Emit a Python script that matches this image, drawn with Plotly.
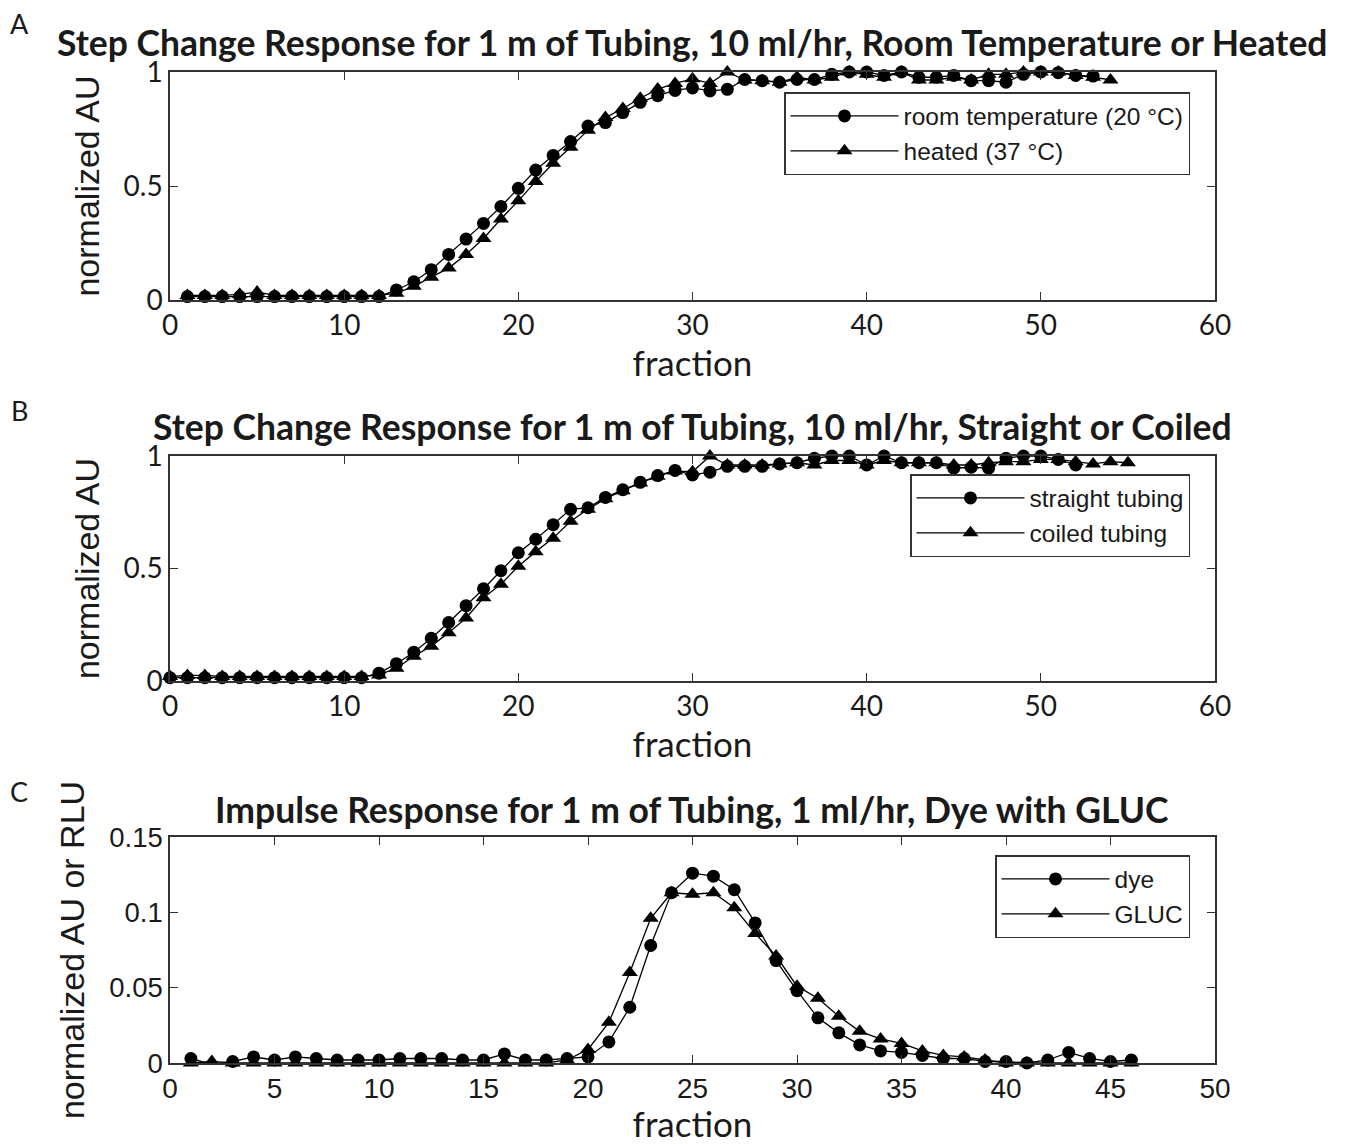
import plotly.graph_objects as go

# ---------------- data ----------------
# Panel A: room temperature vs heated
a_room_x = list(range(1, 54))
a_room_y = [0.015] * 12 + [0.044, 0.08, 0.133, 0.20, 0.267, 0.336, 0.41, 0.49, 0.57, 0.634, 0.695, 0.763,
                            0.778, 0.822, 0.867, 0.896, 0.919,
                            0.93, 0.917, 0.924, 0.967, 0.962, 0.955, 0.967, 0.967, 0.99, 1.0, 1.0, 0.985,
                            1.0, 0.977, 0.977, 0.985, 0.962, 0.962, 0.955, 0.99, 1.0, 0.997, 0.985, 0.982]
a_heat_x = list(range(1, 55))
a_heat_y = [0.02, 0.02, 0.02, 0.025, 0.035, 0.02, 0.02, 0.02, 0.02, 0.02, 0.02, 0.02,
            0.03, 0.06, 0.10, 0.14, 0.20, 0.27, 0.355, 0.435, 0.52, 0.60, 0.67, 0.745, 0.80, 0.84, 0.885,
            0.925, 0.95,
            0.97, 0.95, 1.0, 0.965, 0.962, 0.955, 0.977, 0.965, 0.977, 1.0, 0.99, 0.977, 1.0, 0.965,
            0.965, 0.977, 0.965, 0.99, 0.99, 1.0, 1.0, 1.0, 0.985, 0.977, 0.965]

# Panel B: straight vs coiled
b_straight_x = list(range(0, 53))
b_straight_y = [0.015] * 12 + [0.035, 0.077, 0.128, 0.19, 0.26, 0.335, 0.41, 0.49, 0.57, 0.63, 0.695,
                                0.763, 0.77, 0.816, 0.85, 0.883, 0.913, 0.936,
                                0.916, 0.928, 0.954, 0.954, 0.954, 0.965, 0.97, 0.99, 1.0, 1.0, 0.96, 1.0,
                                0.97, 0.97, 0.97, 0.946, 0.95, 0.946, 0.99, 1.0, 1.0, 0.985, 0.96]
b_coiled_x = list(range(0, 56))
b_coiled_y = [0.02, 0.025, 0.025, 0.02, 0.02, 0.02, 0.02, 0.02, 0.02, 0.02, 0.02, 0.02,
              0.027, 0.057, 0.11, 0.155, 0.215, 0.28, 0.37, 0.43, 0.51, 0.575, 0.635, 0.71, 0.763, 0.81,
              0.846, 0.88, 0.91, 0.933,
              0.93, 1.0, 0.96, 0.96, 0.96, 0.965, 0.97, 0.96, 0.98, 0.98, 0.96, 0.98, 0.97, 0.97, 0.97,
              0.96, 0.96, 0.97, 0.975, 0.975, 0.985, 0.985, 0.975, 0.965, 0.975, 0.97]

# Panel C: dye vs GLUC impulse response
c_x = list(range(1, 47))
c_dye_y = [0.003, -0.001, 0.001, 0.004, 0.002, 0.004, 0.003, 0.002, 0.002, 0.002, 0.003, 0.003, 0.003,
           0.002, 0.002, 0.006, 0.002, 0.002, 0.003, 0.004, 0.014, 0.037, 0.078, 0.113, 0.126, 0.124,
           0.115, 0.093, 0.068, 0.048, 0.030, 0.020, 0.012, 0.008, 0.007, 0.005, 0.003, 0.003, 0.001,
           0.001, 0.0, 0.002, 0.007, 0.003, 0.001, 0.002]
c_gluc_y = [0.0, 0.001, 0.0, 0.0, 0.0, 0.0, 0.0, 0.0, 0.0, 0.0, 0.0, 0.0, 0.0, 0.0, 0.0, 0.0, 0.0, 0.0,
            0.002, 0.009, 0.027, 0.060, 0.096, 0.113, 0.112, 0.113, 0.103, 0.086, 0.071, 0.051, 0.043,
            0.031, 0.021, 0.016, 0.013, 0.008, 0.005, 0.004, 0.002, 0.0, 0.0, 0.0, 0.0, 0.0, 0.0, 0.0]

titles = ["Step Change Response for 1 m of Tubing, 10 ml/hr, Room Temperature or Heated",
          "Step Change Response for 1 m of Tubing, 10 ml/hr, Straight or Coiled",
          "Impulse Response for 1 m of Tubing, 1 ml/hr, Dye with GLUC"]
panel_letters = ["A", "B", "C"]
names_a = ["room temperature (20 °C)", "heated (37 °C)"]
names_b = ["straight tubing", "coiled tubing"]
names_c = ["dye", "GLUC"]

# ---------------- figure ----------------
PAGE_W, PAGE_H = 1351, 1144
OFF = 8  # default body margin of the html page
W, H = PAGE_W - OFF, PAGE_H - OFF
CAL = "Lato, Calibri, Carlito, sans-serif"
ARI = "Liberation Sans, Arial, sans-serif"
INK = "#1a1a1a"

def px_x(p):
    return (p - OFF) / W

def px_y(p):
    return 1 - (p - OFF) / H

fig = go.Figure()

def add_pair(xa, ya, xb, yb, names, xref, yref, legend):
    fig.add_trace(go.Scatter(x=xa, y=ya, mode="lines+markers", name=names[0],
                             line=dict(color="black", width=1.3),
                             marker=dict(symbol="circle", size=13, color="black"),
                             xaxis=xref, yaxis=yref, legend=legend, cliponaxis=False))
    fig.add_trace(go.Scatter(x=xb, y=yb, mode="lines+markers", name=names[1],
                             line=dict(color="black", width=1.3),
                             marker=dict(symbol="triangle-up", size=14, color="black"),
                             xaxis=xref, yaxis=yref, legend=legend, cliponaxis=False))

add_pair(a_room_x, a_room_y, a_heat_x, a_heat_y, names_a, "x", "y", "legend")
add_pair(b_straight_x, b_straight_y, b_coiled_x, b_coiled_y, names_b, "x2", "y2", "legend2")
add_pair(c_x, c_dye_y, c_x, c_gluc_y, names_c, "x3", "y3", "legend3")

axis_common = dict(showline=True, linecolor="#333333", linewidth=1.5, mirror="ticks",
                   ticks="inside", ticklen=8, tickwidth=1.3, tickcolor="#333333",
                   showgrid=False, zeroline=False, automargin=False)

# panel boxes in page pixels (left, right, top, bottom)
boxes = [(170, 1215, 72, 300), (170, 1215, 456, 681), (170, 1215, 837, 1063)]
xdom = [px_x(170), px_x(1215)]

layout = dict(width=W, height=H, margin=dict(l=0, r=0, t=0, b=0, autoexpand=False),
              plot_bgcolor="white", paper_bgcolor="white", showlegend=True)

xranges = [[0, 60], [0, 60], [0, 50]]
xdticks = [10, 10, 5]
yranges = [[0, 1], [0, 1], [0, 0.15]]
ydticks = [0.5, 0.5, 0.05]
ytitles = ["normalized AU", "normalized AU", "normalized AU or RLU"]
ystandoff = [14, 14, 14]
xtickfonts = [dict(family=CAL, size=28, color=INK), dict(family=CAL, size=28, color=INK),
              dict(family=ARI, size=28, color=INK)]
ytickfonts = [dict(family=CAL, size=28, color=INK), dict(family=CAL, size=28, color=INK),
              dict(family=ARI, size=27.5, color=INK)]

for i, (l, r, t, b) in enumerate(boxes):
    sfx = "" if i == 0 else str(i + 1)
    layout["xaxis" + sfx] = dict(axis_common, domain=xdom, range=xranges[i], dtick=xdticks[i],
                                 tick0=0, anchor="y" + sfx, tickfont=xtickfonts[i],
                                 title=dict(text="fraction", font=dict(family=CAL, size=35, color=INK),
                                            standoff=2))
    layout["yaxis" + sfx] = dict(axis_common, domain=[px_y(b), px_y(t)], range=yranges[i],
                                 dtick=ydticks[i], tick0=0, anchor="x" + sfx, tickfont=ytickfonts[i],
                                 title=dict(text=ytitles[i], font=dict(family=ARI, size=34, color=INK),
                                            standoff=ystandoff[i]))

legend_pos = [(1190, 92), (1190, 474), (1190, 855)]
for i, (lx, ly) in enumerate(legend_pos):
    key = "legend" if i == 0 else "legend" + str(i + 1)
    layout[key] = dict(x=px_x(lx), y=px_y(ly), xanchor="right", yanchor="top",
                       bgcolor="white", bordercolor="#333333", borderwidth=1.5,
                       itemwidth=108, font=dict(family=ARI, size=24.5, color=INK), tracegroupgap=0)

annotations = []
title_y = [42, 426, 809]
letter_y = [24, 411, 791]
for i in range(3):
    annotations.append(dict(text="<b>" + titles[i] + "</b>", xref="paper", yref="paper",
                            x=px_x(692), y=px_y(title_y[i]), xanchor="center", yanchor="middle",
                            showarrow=False, font=dict(family=CAL, size=35.5, color=INK)))
    annotations.append(dict(text=panel_letters[i], xref="paper", yref="paper",
                            x=px_x(19), y=px_y(letter_y[i]), xanchor="center", yanchor="middle",
                            showarrow=False, font=dict(family=CAL, size=27, color=INK)))
layout["annotations"] = annotations

fig.update_layout(**layout)
fig.write_html("out.html")
